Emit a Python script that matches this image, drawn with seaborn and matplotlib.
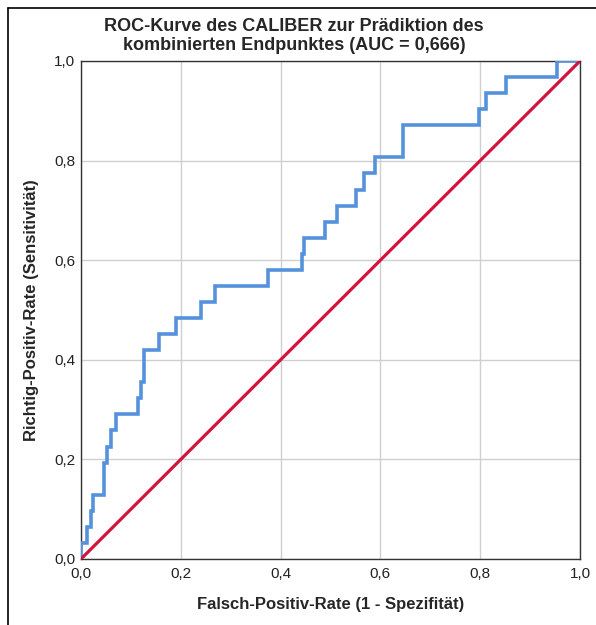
import matplotlib
matplotlib.use("Agg")
import matplotlib.pyplot as plt
import seaborn as sns
import pandas as pd
from matplotlib.lines import Line2D

sns.set_theme(style="white")
plt.rcParams['font.family'] = ['Liberation Sans', 'DejaVu Sans']

# ROC step curve vertices (1 - specificity, sensitivity), positives = 31
fpr = [0.0, 0.0, 0.013, 0.013, 0.021, 0.021, 0.024, 0.024, 0.046, 0.046,
       0.053, 0.053, 0.061, 0.061, 0.070, 0.070, 0.115, 0.115, 0.120, 0.120,
       0.126, 0.126, 0.157, 0.157, 0.190, 0.190, 0.240, 0.240, 0.268, 0.268,
       0.375, 0.375, 0.442, 0.442, 0.446, 0.446, 0.489, 0.489, 0.514, 0.514,
       0.551, 0.551, 0.567, 0.567, 0.590, 0.590, 0.645, 0.645, 0.798, 0.798,
       0.812, 0.812, 0.852, 0.852, 0.953, 0.953, 1.0]
tpr_counts = [0, 1, 1, 2, 2, 3, 3, 4, 4, 6,
              6, 7, 7, 8, 8, 9, 9, 10, 10, 11,
              11, 13, 13, 14, 14, 15, 15, 16, 16, 17,
              17, 18, 18, 19, 19, 20, 20, 21, 21, 22,
              22, 23, 23, 24, 24, 25, 25, 27, 27, 28,
              28, 29, 29, 30, 30, 31, 31]
n_pos = 31
tpr = [c / n_pos for c in tpr_counts]

ref_x = [0.0, 1.0]
ref_y = [0.0, 1.0]

ticks = [0.0, 0.2, 0.4, 0.6, 0.8, 1.0]
tick_labels = ["0,0", "0,2", "0,4", "0,6", "0,8", "1,0"]

title = "ROC-Kurve des CALIBER zur Prädiktion des\nkombinierten Endpunktes (AUC = 0,666)"
xlabel = "Falsch-Positiv-Rate (1 - Spezifität)"
ylabel = "Richtig-Positiv-Rate (Sensitivität)"

roc_df = pd.DataFrame({"fpr": fpr, "tpr": tpr})
ref_df = pd.DataFrame({"x": ref_x, "y": ref_y})

fig = plt.figure(figsize=(5.96, 6.25), dpi=100)
ax = fig.add_axes([81/596, 1 - 559/625, (580-81)/596, (559-61)/625])

sns.lineplot(data=roc_df, x="fpr", y="tpr", sort=False, estimator=None,
             color="#5592DC", linewidth=2.6, ax=ax, zorder=3,
             solid_joinstyle="miter")
sns.lineplot(data=ref_df, x="x", y="y", sort=False, estimator=None,
             color="#D4133C", linewidth=2.3, ax=ax, zorder=4)

ax.set_xlim(0, 1)
ax.set_ylim(0, 1)
ax.set_xticks(ticks)
ax.set_yticks(ticks)
ax.set_xticklabels(tick_labels, fontsize=11)
ax.set_yticklabels(tick_labels, fontsize=11)
ax.tick_params(axis='x', length=0, pad=5.5, colors="#222222")
ax.tick_params(axis='y', length=0, pad=4, colors="#222222")
ax.grid(True, color="#CFCFCF", linewidth=1.0)
ax.set_axisbelow(True)
for s in ax.spines.values():
    s.set_color("#333333")
    s.set_linewidth(1.0)

ax.set_xlabel(xlabel, fontsize=12, fontweight="bold", labelpad=12)
ax.set_ylabel(ylabel, fontsize=12, fontweight="bold", labelpad=11)
ax.set_title(title, fontsize=13, fontweight="bold", pad=8, linespacing=1.15,
             x=(294 - 81) / 499)

# outer frame (cut at right and bottom)
fig.add_artist(Line2D([8/596, 8/596], [0, 1 - 8/625], color="black",
                      linewidth=1.2, transform=fig.transFigure))
fig.add_artist(Line2D([8/596, 1], [1 - 8/625, 1 - 8/625], color="black",
                      linewidth=1.2, transform=fig.transFigure))

fig.savefig("out.png", dpi=100)
